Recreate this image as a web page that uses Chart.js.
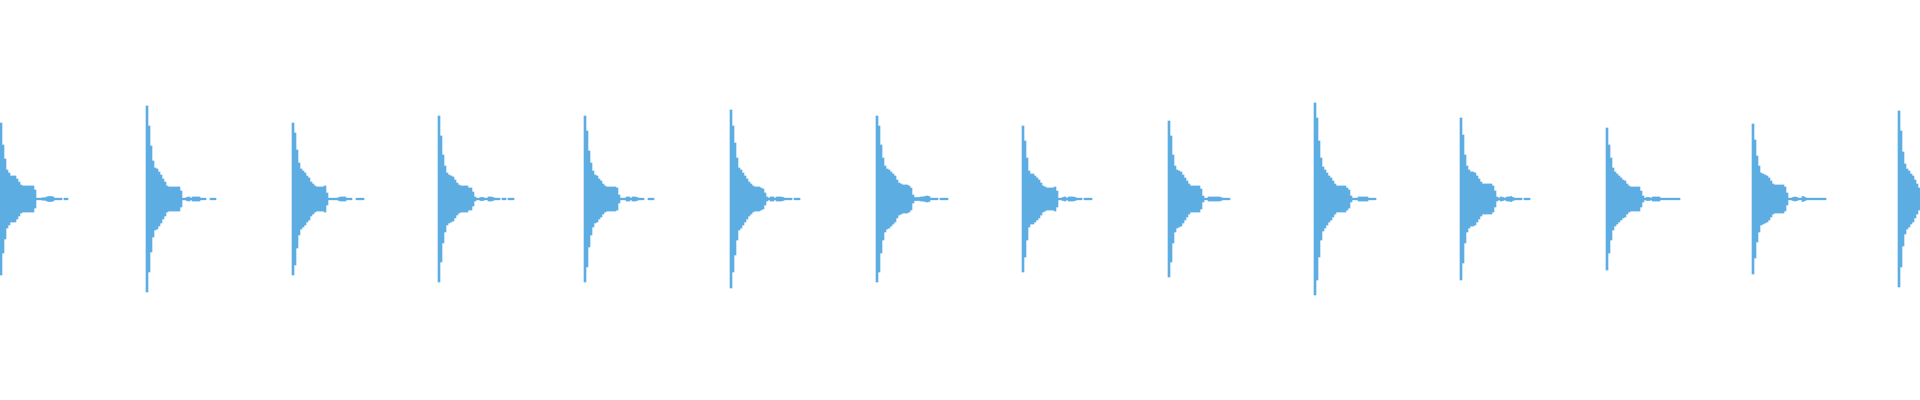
<!DOCTYPE html>
<html>
<head>
<meta charset="utf-8">
<script src="https://cdn.jsdelivr.net/npm/chart.js@4.4.1/dist/chart.umd.min.js"></script>
<style>
html,body{margin:0;padding:0;background:#fff;}
#wrap{width:1920px;height:400px;}
</style>
</head>
<body>
<div id="wrap"><canvas id="c" width="1920" height="400"></canvas></div>
<script>
// Waveform: 960 time bins; each drum hit is an amplitude envelope (peak per bin)
const binCount = 960;
const hitStartBins = [0, 73, 146, 219, 292, 365, 438, 511, 584, 657, 730, 803, 876, 949];

const hit1  = [0.76,0.54,0.40,0.29,0.26,0.23,0.23,0.23,0.20,0.17,0.14,0.13,0.13,0.13,0.13,0.13,0.13,0.09,0.008,0.008,0.008,0.012,0.012,0.02,0.025,0.025,0.02,0.008,0.008,0.008,0.008,null,0.008,0.008];
const hit2  = [0.93,0.73,0.53,0.38,0.31,0.30,0.27,0.24,0.20,0.17,0.13,0.12,0.12,0.12,0.12,0.12,0.12,0.08,0.008,0.008,0.015,0.02,0.008,0.02,0.02,0.02,0.02,0.008,0.008,0.008,null,null,0.008,0.008,0.008];
const hit3  = [0.76,0.66,0.49,0.36,0.30,0.28,0.26,0.23,0.21,0.17,0.15,0.13,0.12,0.12,0.12,0.12,0.13,0.06,0.008,0.008,0.008,0.008,0.008,0.015,0.02,0.02,0.02,0.008,0.008,0.008,null,null,0.008,0.008,0.008,0.008];
const hit4  = [0.83,0.63,0.44,0.33,0.26,0.24,0.23,0.22,0.19,0.16,0.14,0.13,0.13,0.13,0.13,0.11,0.11,0.07,0.02,0.008,0.008,0.015,0.015,0.008,0.008,0.02,0.02,0.015,0.008,0.008,0.008,null,0.008,0.008,null,0.008,0.008,0.008];
const hit5  = [0.83,0.68,0.48,0.36,0.28,0.24,0.23,0.20,0.18,0.15,0.13,0.12,0.12,0.12,0.12,0.12,0.11,0.04,0.008,0.008,0.008,0.02,0.02,0.008,0.02,0.02,0.015,0.008,0.008,0.008,null,null,0.008,0.008,0.008];
const hit6  = [0.89,0.73,0.56,0.41,0.31,0.29,0.26,0.23,0.20,0.17,0.15,0.13,0.12,0.12,0.12,0.11,0.10,0.06,0.02,0.008,0.02,0.02,0.008,0.02,0.02,0.02,0.015,0.008,0.008,0.008,0.008,null,0.008,0.008,0.008];
const hit7  = [0.83,0.73,0.54,0.41,0.33,0.30,0.29,0.27,0.25,0.23,0.19,0.16,0.15,0.14,0.14,0.14,0.13,0.11,0.04,0.015,0.015,0.015,0.02,0.02,0.025,0.03,0.025,0.008,0.008,0.008,0.008,null,0.008,0.008,0.008,0.008];
const hit8  = [0.73,0.58,0.41,0.28,0.25,0.25,0.23,0.21,0.19,0.16,0.13,0.12,0.11,0.11,0.11,0.11,0.12,0.08,0.008,0.008,0.015,0.02,0.008,0.02,0.02,0.02,0.015,0.008,0.008,0.008,null,0.008,0.008,0.008,0.008];
const hit9  = [0.78,0.63,0.44,0.33,0.29,0.28,0.27,0.24,0.21,0.18,0.15,0.13,0.13,0.13,0.13,0.13,0.10,0.03,0.008,0.008,0.02,0.02,0.02,0.02,0.02,0.02,0.015,0.008,0.008,0.008,0.008];
const hit10 = [0.96,0.81,0.58,0.41,0.32,0.29,0.26,0.23,0.21,0.18,0.15,0.13,0.13,0.13,0.13,0.13,0.11,0.09,0.03,0.008,0.008,0.008,0.02,0.02,0.02,0.02,0.02,0.008,0.008,0.008,0.008];
const hit11 = [0.81,0.64,0.44,0.33,0.29,0.27,0.27,0.26,0.23,0.20,0.17,0.15,0.15,0.15,0.15,0.15,0.13,0.08,0.02,0.008,0.02,0.015,0.008,0.02,0.02,0.025,0.015,0.008,0.008,0.008,0.008,null,0.008,0.008,0.008];
const hit12 = [0.71,0.54,0.41,0.31,0.27,0.25,0.23,0.21,0.19,0.18,0.15,0.13,0.12,0.12,0.12,0.12,0.12,0.08,0.03,0.008,0.015,0.015,0.008,0.02,0.02,0.02,0.02,0.008,0.008,0.008,0.008,0.008,0.008,0.008,0.008,0.008,0.008];
const hit13 = [0.75,0.59,0.43,0.33,0.26,0.25,0.24,0.23,0.21,0.18,0.15,0.14,0.14,0.14,0.14,0.14,0.12,0.06,0.008,0.008,0.015,0.02,0.015,0.008,0.008,0.025,0.015,0.008,0.008,0.008,0.008,0.008,0.008,0.008,0.008,0.008,0.008];
const hit14 = [0.88,0.68,0.47,0.35,0.30,0.28,0.25,0.23,0.19,0.15,0.11];

const hitEnvelopes = [hit1,hit2,hit3,hit4,hit5,hit6,hit7,hit8,hit9,hit10,hit11,hit12,hit13,hit14];

// Build the floating-bar table (min/max per bin) from the envelopes
const labels = [];
const wave = [];
for (let i = 0; i < binCount; i++) { labels.push(i); wave.push(null); }
hitEnvelopes.forEach((env, h) => {
  env.forEach((v, j) => {
    const idx = hitStartBins[h] + j;
    if (idx < binCount && v !== null) wave[idx] = [-v, v];
  });
});

new Chart(document.getElementById('c'), {
  type: 'bar',
  data: {
    labels: labels,
    datasets: [{
      data: wave,
      backgroundColor: '#5DADE2',
      borderWidth: 0,
      barPercentage: 1.0,
      categoryPercentage: 1.0
    }]
  },
  options: {
    responsive: false,
    animation: false,
    devicePixelRatio: 1,
    layout: { padding: 0 },
    plugins: { legend: { display: false }, tooltip: { enabled: false } },
    scales: {
      x: { display: false },
      y: { display: false, min: -2.01, max: 1.99 }
    }
  }
});
</script>
</body>
</html>
